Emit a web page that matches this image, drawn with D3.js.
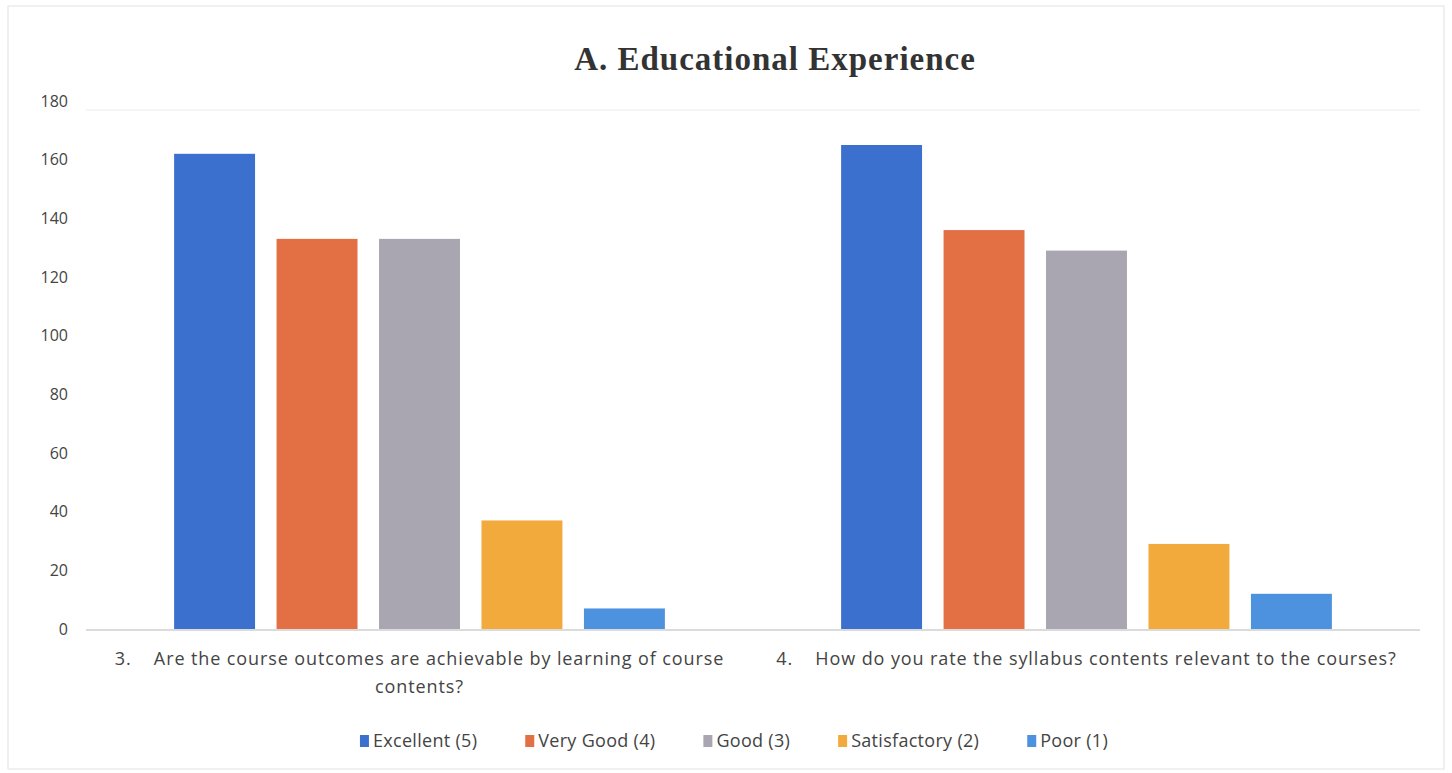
<!DOCTYPE html>
<html>
<head>
<meta charset="utf-8">
<script src="https://cdn.jsdelivr.net/npm/d3@7"></script>
<style>
  body { margin: 0; background: #fff; }
  svg { display: block; }
</style>
</head>
<body>
<svg id="chart"></svg>
<script>
// chart data
const categories = [
  "3.\u00a0\u00a0\u00a0\u00a0Are the course outcomes are achievable by learning of course|contents?",
  "4.\u00a0\u00a0\u00a0\u00a0How do you rate the syllabus contents relevant to the courses?"
];
const seriesNames = ["Excellent (5)", "Very Good (4)", "Good (3)", "Satisfactory (2)", "Poor (1)"];
const seriesColors = ["#3b70cf", "#e36f45", "#a9a6b1", "#f3aa3d", "#4d92de"];
const excellent = [162, 165];
const veryGood = [133, 136];
const good = [133, 129];
const satisfactory = [37, 29];
const poor = [7, 12];
const yTicks = [0, 20, 40, 60, 80, 100, 120, 140, 160, 180];

const seriesValues = [excellent, veryGood, good, satisfactory, poor];

const width = 1452, height = 773;
const margin = { top: 101, right: 32, bottom: 144, left: 86 };
const innerW = width - margin.left - margin.right;
const innerH = height - margin.top - margin.bottom;
const labelFont = "'Open Sans', Lato, sans-serif";

const svg = d3.select("#chart").attr("width", width).attr("height", height);

// faint frame of the chart area
svg.append("rect")
  .attr("x", 8).attr("y", 6)
  .attr("width", width - 16).attr("height", height - 10)
  .attr("fill", "none")
  .attr("stroke", "#e2e2e2")
  .attr("stroke-width", 1);

const g = svg.append("g").attr("transform", `translate(${margin.left},${margin.top})`);

// scales
const x0 = d3.scaleBand().domain(categories).range([0, innerW]).paddingInner(0).paddingOuter(0);
const x1 = d3.scaleBand().domain(seriesNames).range([0, x0.bandwidth()]).paddingInner(0.21).paddingOuter(0.86);
const y = d3.scaleLinear().domain([0, 180]).range([innerH, 0]);

// faint top gridline
g.append("line")
  .attr("x1", 0).attr("x2", innerW)
  .attr("y1", y(180) + 9).attr("y2", y(180) + 9)
  .attr("stroke", "#ececec");

// y axis labels
const yAxis = d3.axisLeft(y).tickValues(yTicks).tickSize(0).tickPadding(18);
g.append("g").call(yAxis)
  .call(a => a.select(".domain").remove())
  .selectAll("text")
  .style("font-family", labelFont)
  .style("font-size", "16px")
  .attr("fill", "#444");

// bars
const groups = g.selectAll(".cat")
  .data(categories)
  .enter()
  .append("g")
  .attr("class", "cat")
  .attr("transform", d => `translate(${x0(d)},0)`);

groups.selectAll("rect")
  .data((d, i) => seriesNames.map((s, j) => ({ s, v: seriesValues[j][i], c: seriesColors[j] })))
  .enter()
  .append("rect")
  .attr("x", d => x1(d.s))
  .attr("y", d => y(d.v))
  .attr("width", x1.bandwidth())
  .attr("height", d => innerH - y(d.v))
  .attr("fill", d => d.c);

// x axis baseline
g.append("line")
  .attr("x1", 0).attr("x2", innerW)
  .attr("y1", innerH + 1).attr("y2", innerH + 1)
  .attr("stroke", "#cfcfcf")
  .attr("stroke-width", 1.5);

// category labels
groups.each(function (d) {
  const lines = d.split("|");
  const t = d3.select(this).append("text")
    .attr("x", x0.bandwidth() / 2)
    .attr("y", innerH + 36)
    .attr("text-anchor", "middle")
    .style("font-family", labelFont)
    .style("font-size", "18px")
    .style("letter-spacing", "0.9px")
    .attr("fill", "#444");
  lines.forEach((l, k) => {
    t.append("tspan")
      .attr("x", x0.bandwidth() / 2)
      .attr("dy", k === 0 ? 0 : 28)
      .text(l);
  });
});

// title
svg.append("text")
  .attr("x", 775)
  .attr("y", 70)
  .attr("text-anchor", "middle")
  .style("font-family", "'Liberation Serif', 'Times New Roman', serif")
  .style("font-weight", "bold")
  .style("font-size", "33px")
  .style("letter-spacing", "1px")
  .attr("fill", "#333")
  .text("A. Educational Experience");

// legend
const gap = 48;
const legend = svg.append("g");
let lx = 0;
seriesNames.forEach((s, i) => {
  const item = legend.append("g").attr("transform", `translate(${lx},0)`);
  item.append("rect")
    .attr("x", 0).attr("y", -13)
    .attr("width", 9).attr("height", 12)
    .attr("fill", seriesColors[i]);
  const t = item.append("text")
    .attr("x", 13).attr("y", -1)
    .style("font-family", labelFont)
    .style("font-size", "18px")
    .style("letter-spacing", "0.3px")
    .attr("fill", "#444")
    .text(s);
  lx += 13 + t.node().getComputedTextLength() + gap;
});
legend.attr("transform", `translate(${(width - (lx - gap)) / 2 + 8},748)`);
</script>
</body>
</html>
